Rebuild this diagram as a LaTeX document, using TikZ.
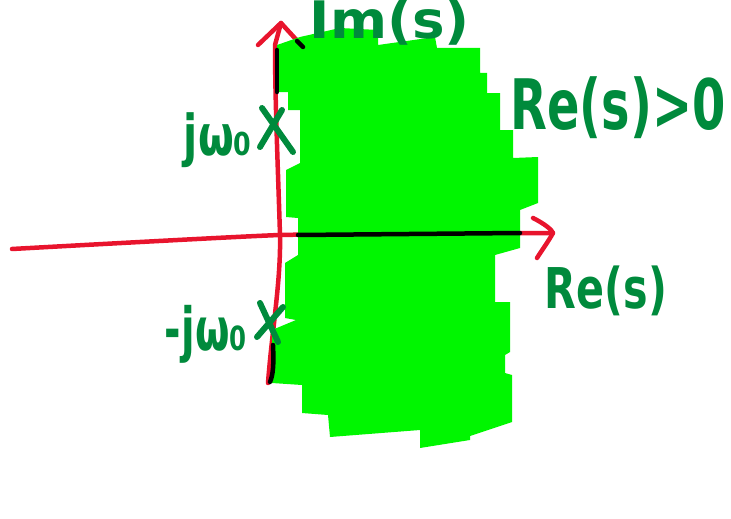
\documentclass[tikz,border=0pt]{standalone}
\usepackage{fontspec}
\setmainfont{DejaVu Sans}
\usepackage{graphicx}
\definecolor{axisred}{RGB}{232,20,45}
\definecolor{fillgreen}{RGB}{0,246,0}
\definecolor{inkgreen}{RGB}{0,138,60}
\tikzset{
  axisline/.style={draw=axisred,line width=4.5pt,line cap=round,line join=round},
  blackline/.style={draw=black,line width=4.5pt,line cap=round},
  pole/.style={draw=inkgreen,line width=6pt,line cap=round},
  hand/.style={text=inkgreen,inner sep=0pt,font=\bfseries}
}
\begin{document}
\begin{tikzpicture}[x=1pt,y=-1pt]
\useasboundingbox (0,0) rectangle (731,519);
% coordinates
\coordinate (hl) at (12,249);
\coordinate (hr) at (553,233);
\coordinate (vb) at (268,383);
\coordinate (vt) at (281,23);
% red axes
\draw[axisline] (hl) .. controls (120,243) and (250,236) .. (280,235) .. controls (380,233) and (480,233) .. (hr);
\draw[axisline] (vb) .. controls (272,330) and (281,280) .. (280,235) .. controls (278,170) and (275,100) .. (275,45) -- (vt);
\draw[axisline] (258,45) -- (vt) -- (303,47);
\draw[axisline] (533,218) .. controls (545,224) and (552,230) .. (hr) .. controls (548,242) and (542,250) .. (537,258);
% green region
\fill[fillgreen] (277,45) -- (300,37) -- (340,28) -- (378,30) -- (378,45) -- (435,37) -- (437,48) -- (480,48)
  -- (480,73) -- (487,73) -- (487,93) -- (500,93) -- (500,130) -- (513,130) -- (513,158) -- (538,157)
  -- (538,203) -- (520,210) -- (520,248) -- (495,255) -- (495,302) -- (510,302) -- (510,352) -- (505,355)
  -- (505,373) -- (512,375) -- (512,422) -- (470,436) -- (470,440) -- (420,448) -- (420,430) -- (330,437)
  -- (328,415) -- (302,413) -- (302,385) -- (272,383) -- (272,330) -- (296,320) -- (285,318) -- (285,263)
  -- (298,255) -- (298,218) -- (286,217) -- (286,170) -- (300,163) -- (300,110) -- (288,110) -- (288,92)
  -- (277,92) -- cycle;
% black overdraw
\draw[blackline] (298,235) -- (520,233);
\draw[blackline] (277,50) -- (277,92);
\draw[blackline] (297,41) -- (303,47);
\draw[blackline] (273,345) .. controls (274,365) and (273,375) .. (270,382);
% labels
\node[hand] (im) at (390,22) {\resizebox*{160pt}{46pt}{Im(s)}};
\node[hand] (repos) at (618,108) {\resizebox*{215pt}{62pt}{Re(s)>0}};
\node[hand] (re) at (606,291) {\resizebox*{122pt}{50pt}{Re(s)}};
\node[hand] (jwp) at (218,140) {\resizebox*{68pt}{55pt}{jω₀}};
\node[hand] (jwm) at (206,334) {\resizebox*{82pt}{58pt}{-jω₀}};
% pole marks
\coordinate (p1a) at (262,108); \coordinate (p1b) at (293,152);
\coordinate (p1c) at (282,110); \coordinate (p1d) at (260,147);
\draw[pole] (p1a) -- (p1b) (p1c) -- (p1d);
\coordinate (p2a) at (260,303); \coordinate (p2b) at (278,342);
\coordinate (p2c) at (283,307); \coordinate (p2d) at (257,337);
\draw[pole] (p2a) -- (p2b) (p2c) -- (p2d);
\end{tikzpicture}
\end{document}
